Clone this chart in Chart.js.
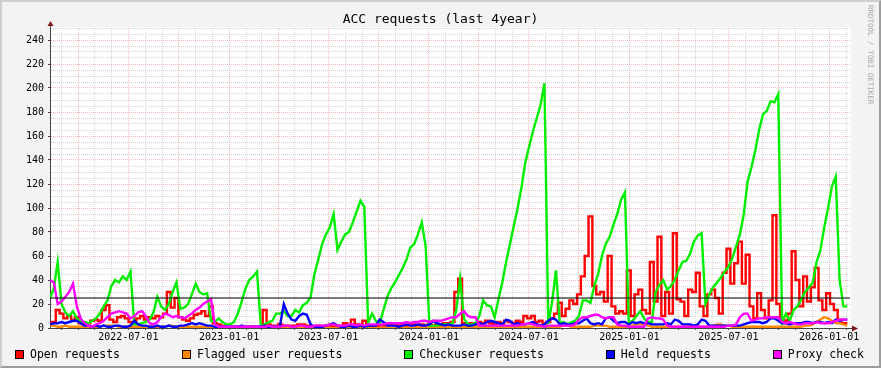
<!DOCTYPE html>
<html>
<head>
<meta charset="utf-8">
<script src="https://cdn.jsdelivr.net/npm/chart.js@4"></script>
<style>
html,body{margin:0;padding:0;background:#f3f3f3;}
#wrap{position:relative;width:881px;height:368px;overflow:hidden;background:#f3f3f3;}
#frame{position:absolute;left:0;top:0;width:881px;height:368px;box-sizing:border-box;border:2px solid;border-color:#cfcfcf #9e9e9e #9e9e9e #cfcfcf;}
#c{position:absolute;left:0;top:0;}
#title{position:absolute;left:0;top:12px;width:881px;text-align:center;font:13px 'DejaVu Sans Mono',monospace;line-height:14px;color:#000;}
#mark{position:absolute;left:866px;top:5px;writing-mode:vertical-rl;font:7.5px 'DejaVu Sans Mono',monospace;color:#a8a8a8;line-height:9px;white-space:nowrap;}
#legend{position:absolute;left:15px;top:347px;width:849px;height:14px;display:flex;justify-content:space-between;align-items:center;font:11.5px 'DejaVu Sans Mono',monospace;line-height:14px;color:#000;}
#legend .it{display:flex;align-items:center;white-space:nowrap;}
#legend .bx{display:inline-block;width:9px;height:9px;box-sizing:border-box;border:1px solid #000;margin-right:6px;}
</style>
</head>
<body>
<div id="wrap">
  <div id="frame"></div>
  <canvas id="c" width="881" height="368"></canvas>
  <div id="title">ACC requests (last 4year)</div>
  <div id="mark">RRDTOOL / TOBI OETIKER</div>
  <div id="legend"></div>
</div>
<script>
// ---- time frame ----
const startDate = Date.UTC(2022, 1, 8);   // left edge of the graph
const spanDays = 1461;                    // 4 years
const stepDays = 7;                       // one sample per week

// ---- series (weekly samples) ----
const openRequests = [
  4, 5, 15, 12, 8, 10, 7, 9, 4, 3,
  4, 6, 7, 6, 15, 19, 7, 5, 9, 10,
  8, 5, 4, 8, 10, 7, 9, 8, 10, 9,
  12, 30, 17, 25, 9, 7, 6, 8, 11, 12,
  14, 10, 18, 4, 3, 2, 1, 1, 1, 1,
  1, 1, 1, 1, 1, 1, 15, 3, 2, 2,
  3, 2, 2, 2, 2, 3, 3, 2, 1, 1,
  2, 1, 2, 2, 1, 2, 2, 4, 2, 7,
  3, 2, 6, 2, 2, 1, 2, 2, 3, 3,
  4, 2, 3, 2, 3, 3, 2, 3, 2, 3,
  2, 3, 3, 4, 4, 5, 30, 41, 4, 3,
  4, 3, 5, 4, 6, 4, 3, 5, 4, 6,
  5, 4, 6, 5, 10, 8, 10, 5, 6, 4,
  5, 8, 12, 21, 10, 16, 23, 20, 28, 43,
  60, 93, 35, 28, 30, 22, 60, 18, 12, 14,
  12, 48, 10, 28, 32, 15, 12, 55, 22, 76,
  10, 30, 12, 79, 24, 22, 10, 32, 30, 46,
  18, 10, 28, 32, 25, 12, 46, 66, 37, 54,
  72, 37, 61, 18, 8, 29, 15, 8, 23, 94,
  20, 8, 6, 12, 64, 40, 18, 43, 22, 34,
  50, 23, 15, 29, 20, 15, 7, 4, 4
];
const flaggedUserRequests = [
  2, 2, 1, 1, 2, 1, 1, 1, 1, 1,
  1, 1, 1, 1, 2, 2, 2, 2, 1, 1,
  1, 1, 1, 1, 1, 1, 1, 1, 1, 1,
  1, 2, 2, 1, 1, 1, 1, 1, 1, 1,
  1, 1, 1, 0, 0, 0, 0, 0, 0, 0,
  0, 0, 0, 0, 0, 0, 0, 0, 0, 0,
  0, 0, 0, 0, 0, 0, 0, 0, 0, 0,
  0, 0, 0, 0, 0, 0, 0, 0, 0, 0,
  0, 0, 0, 0, 0, 0, 0, 0, 0, 0,
  0, 0, 0, 0, 0, 0, 1, 1, 1, 1,
  1, 1, 1, 1, 1, 1, 1, 1, 1, 1,
  1, 1, 1, 1, 1, 1, 1, 1, 1, 1,
  1, 1, 1, 1, 1, 1, 1, 1, 1, 1,
  1, 1, 1, 1, 2, 2, 1, 1, 1, 1,
  1, 1, 2, 2, 2, 2, 1, 1, 1, 1,
  1, 1, 2, 3, 3, 3, 2, 1, 1, 1,
  1, 1, 1, 1, 1, 1, 1, 1, 2, 2,
  1, 1, 2, 2, 3, 3, 2, 2, 1, 1,
  1, 1, 1, 1, 1, 1, 1, 1, 1, 1,
  1, 1, 1, 1, 1, 1, 1, 2, 2, 3,
  5, 7, 9, 8, 6, 4, 4, 3, 2
];
const checkuserRequests = [
  25, 33, 55, 20, 13, 10, 14, 8, 5, 5,
  4, 6, 8, 12, 18, 23, 35, 40, 38, 43,
  40, 47, 3, 3, 4, 5, 7, 13, 26, 18,
  15, 20, 30, 38, 16, 17, 20, 28, 37, 30,
  28, 29, 6, 5, 8, 5, 3, 3, 5, 12,
  22, 33, 40, 43, 47, 2, 3, 5, 6, 12,
  12, 14, 10, 10, 15, 13, 19, 21, 26, 45,
  57, 70, 78, 84, 95, 65, 72, 78, 80, 88,
  97, 106, 101, 4, 12, 6, 4, 15, 26, 33,
  38, 44, 50, 57, 67, 70, 78, 88, 68, 2,
  2, 2, 3, 3, 3, 4, 15, 41, 8, 3,
  3, 4, 10, 23, 19, 18, 9, 24, 38, 55,
  70, 85, 100, 117, 138, 151, 164, 175, 186, 204,
  3, 22, 48, 4, 5, 3, 5, 6, 10, 23,
  23, 21, 35, 45, 60, 70, 76, 86, 95, 107,
  113, 4, 6, 10, 14, 8, 5, 5, 30, 36,
  40, 32, 35, 40, 48, 55, 56, 62, 72, 77,
  79, 20, 28, 34, 38, 42, 47, 51, 58, 68,
  78, 95, 122, 134, 148, 165, 178, 181, 189, 188,
  195, 5, 12, 6, 15, 18, 24, 30, 34, 38,
  55, 65, 84, 100, 118, 126, 40, 18, 18
];
const heldRequests = [
  3, 4, 4, 5, 4, 5, 6, 6, 4, 2,
  2, 1, 2, 1, 2, 1, 1, 2, 2, 1,
  1, 2, 6, 3, 2, 2, 1, 1, 2, 1,
  1, 2, 1, 1, 2, 2, 3, 4, 3, 4,
  3, 2, 2, 1, 1, 1, 1, 1, 1, 1,
  2, 1, 1, 1, 1, 1, 2, 1, 1, 1,
  2, 20, 12, 7, 6, 10, 12, 11, 3, 1,
  1, 1, 2, 3, 4, 2, 1, 1, 2, 1,
  1, 2, 1, 2, 2, 2, 7, 5, 2, 2,
  2, 1, 2, 3, 2, 2, 3, 2, 2, 3,
  6, 4, 3, 2, 3, 2, 2, 2, 3, 2,
  2, 3, 4, 3, 5, 6, 5, 4, 3, 7,
  6, 3, 4, 3, 3, 4, 5, 3, 2, 3,
  6, 8, 7, 3, 4, 3, 3, 4, 4, 6,
  8, 4, 3, 4, 3, 8, 9, 6, 4, 5,
  5, 3, 5, 4, 5, 4, 4, 3, 3, 3,
  3, 4, 3, 7, 6, 3, 3, 3, 2, 3,
  7, 6, 2, 2, 2, 2, 2, 2, 2, 2,
  2, 3, 4, 5, 5, 5, 4, 5, 8, 8,
  6, 4, 4, 3, 4, 4, 4, 5, 5, 4,
  5, 5, 4, 5, 4, 7, 6, 7, 7
];
const proxyCheck = [
  40, 38, 20, 22, 26, 30, 37, 18, 8, 4,
  2, 1, 3, 4, 6, 9, 12, 13, 14, 13,
  12, 8, 10, 13, 14, 10, 4, 3, 5, 9,
  12, 11, 9, 10, 9, 8, 10, 12, 15, 17,
  20, 22, 24, 3, 1, 1, 1, 1, 1, 1,
  1, 1, 1, 1, 1, 1, 1, 2, 1, 1,
  1, 2, 2, 1, 1, 2, 2, 1, 1, 2,
  2, 2, 2, 3, 3, 2, 2, 2, 3, 3,
  2, 3, 2, 3, 3, 3, 3, 3, 4, 4,
  4, 4, 4, 5, 4, 5, 5, 6, 6, 5,
  6, 6, 6, 7, 8, 9, 9, 12, 14, 10,
  9, 9, 2, 2, 2, 2, 2, 2, 2, 2,
  2, 2, 2, 3, 3, 4, 3, 2, 2, 1,
  2, 2, 2, 2, 2, 2, 2, 3, 7, 9,
  9, 10, 11, 11, 9, 8, 9, 9, 3, 2,
  2, 1, 1, 1, 1, 1, 8, 9, 8, 8,
  7, 2, 1, 1, 1, 1, 1, 1, 1, 1,
  1, 1, 1, 1, 1, 1, 1, 2, 2, 3,
  9, 12, 12, 6, 7, 8, 8, 9, 9, 9,
  9, 5, 4, 5, 4, 3, 3, 4, 4, 4,
  5, 4, 4, 4, 5, 6, 7, 7, 7
];
const threshold = 25;   // horizontal rule

// ---- axis definitions ----
const yMax = 250, yStep = 5, yLabelStep = 20, yMajorStep = 20;
const xLabelMonths = [0, 6];          // Jan and Jul carry a label
const xMajorMonths = [0, 3, 6, 9];    // quarterly major grid

// ---- series meta (style) ----
const seriesNames = ['Open requests', 'Flagged user requests', 'Checkuser requests', 'Held requests', 'Proxy check'];
const seriesData = [openRequests, flaggedUserRequests, checkuserRequests, heldRequests, proxyCheck];
const seriesColors = ['#ff0000', '#ff8800', '#00ee00', '#0000ff', '#ff00ff'];
const seriesStepped = ['middle', false, false, false, false];

// month ticks
const DAY = 86400000;
const monthTicks = [];
{
  let y = 2022, m = 2;
  while (true) {
    const d = (Date.UTC(y, m, 1) - startDate) / DAY;
    if (d > spanDays) break;
    if (d >= 0) monthTicks.push({ day: d, y, m });
    m++; if (m > 11) { m = 0; y++; }
  }
}
const monthByDay = new Map(monthTicks.map(t => [t.day, t]));
const yTicks = [];
for (let v = 0; v <= yMax; v += yStep) yTicks.push(v);

Chart.defaults.font.family = "'DejaVu Sans Mono', monospace";

const majorGrid = 'rgba(235,70,70,0.38)';
const minorGrid = 'rgba(150,150,150,0.38)';

const datasets = seriesNames.map((name, k) => ({
  label: name,
  data: seriesData[k].map((v, i) => ({ x: i * stepDays, y: v })),
  borderColor: seriesColors[k],
  backgroundColor: seriesColors[k],
  borderWidth: 2.4,
  pointRadius: 0,
  fill: false,
  tension: 0,
  stepped: seriesStepped[k],
  borderJoinStyle: 'miter',
  order: 10 - k
}));
datasets.push({
  label: 'limit',
  data: [{ x: 0, y: threshold }, { x: spanDays, y: threshold }],
  borderColor: '#000',
  borderWidth: 1.2,
  pointRadius: 0,
  fill: false,
  order: 0
});

const bgPlugin = {
  id: 'bg',
  beforeDraw(chart) {
    const { ctx, chartArea: a } = chart;
    ctx.save();
    ctx.fillStyle = '#ffffff';
    ctx.fillRect(a.left, a.top - 1, a.right - a.left + 1, a.bottom - a.top + 1);
    ctx.restore();
  }
};
const arrowPlugin = {
  id: 'arrows',
  afterDraw(chart) {
    const { ctx, chartArea: a } = chart;
    ctx.save();
    const xa = Math.round(a.left - 0.5) + 0.5;
    const ya = Math.round(a.bottom - 0.5) + 0.5;
    ctx.strokeStyle = '#444';
    ctx.lineWidth = 1;
    ctx.beginPath(); ctx.moveTo(xa, a.top); ctx.lineTo(xa, a.top - 3); ctx.stroke();
    ctx.beginPath(); ctx.moveTo(a.right, ya); ctx.lineTo(a.right + 3, ya); ctx.stroke();
    ctx.fillStyle = '#801818';
    ctx.beginPath(); ctx.moveTo(xa - 3, a.top - 2); ctx.lineTo(xa + 3, a.top - 2); ctx.lineTo(xa, a.top - 7); ctx.closePath(); ctx.fill();
    ctx.beginPath(); ctx.moveTo(a.right + 2, ya - 3); ctx.lineTo(a.right + 2, ya + 3); ctx.lineTo(a.right + 8, ya); ctx.closePath(); ctx.fill();
    ctx.restore();
  }
};

new Chart(document.getElementById('c'), {
  type: 'line',
  data: { datasets },
  options: {
    responsive: false,
    animation: false,
    devicePixelRatio: 1,
    events: [],
    layout: { padding: { left: 0, right: 31, top: 28, bottom: 20 } },
    plugins: { legend: { display: false }, tooltip: { enabled: false }, title: { display: false } },
    scales: {
      x: {
        type: 'linear', min: 0, max: spanDays,
        afterBuildTicks: s => { s.ticks = monthTicks.map(t => ({ value: t.day })); },
        afterFit: s => { s.height = 20; },
        ticks: {
          autoSkip: false, maxRotation: 0, minRotation: 0, padding: 1, color: '#000',
          font: { size: 10 },
          callback: v => {
            const t = monthByDay.get(v);
            if (!t || !xLabelMonths.includes(t.m)) return '';
            return t.y + '-' + String(t.m + 1).padStart(2, '0') + '-01';
          }
        },
        grid: {
          color: c => { const t = monthByDay.get(c.tick && c.tick.value); return t && xMajorMonths.includes(t.m) ? majorGrid : minorGrid; },
          lineWidth: 1, drawTicks: true, tickLength: 2, tickColor: '#555'
        },
        border: { display: true, color: '#444', width: 1, dash: [1, 1] }
      },
      y: {
        type: 'linear', min: 0, max: yMax,
        afterBuildTicks: s => { s.ticks = yTicks.map(v => ({ value: v })); },
        afterFit: s => { s.width = 50; },
        ticks: {
          autoSkip: false, padding: 4, color: '#000', font: { size: 10 },
          callback: v => (v % yLabelStep === 0 ? String(v) : '')
        },
        grid: {
          color: c => (c.tick && c.tick.value % yMajorStep === 0 ? majorGrid : minorGrid),
          lineWidth: 1, drawTicks: true, tickLength: 2,
          tickColor: c => (c.tick && c.tick.value % yMajorStep === 0 ? '#444' : 'rgba(0,0,0,0)')
        },
        border: { display: true, color: '#444', width: 1, dash: [1, 1] }
      }
    }
  },
  plugins: [bgPlugin, arrowPlugin]
});

// legend built from the series definitions
const lg = document.getElementById('legend');
seriesNames.forEach((name, k) => {
  const it = document.createElement('span'); it.className = 'it';
  const bx = document.createElement('span'); bx.className = 'bx'; bx.style.background = seriesColors[k];
  it.appendChild(bx); it.appendChild(document.createTextNode(name));
  lg.appendChild(it);
});
</script>
</body>
</html>
